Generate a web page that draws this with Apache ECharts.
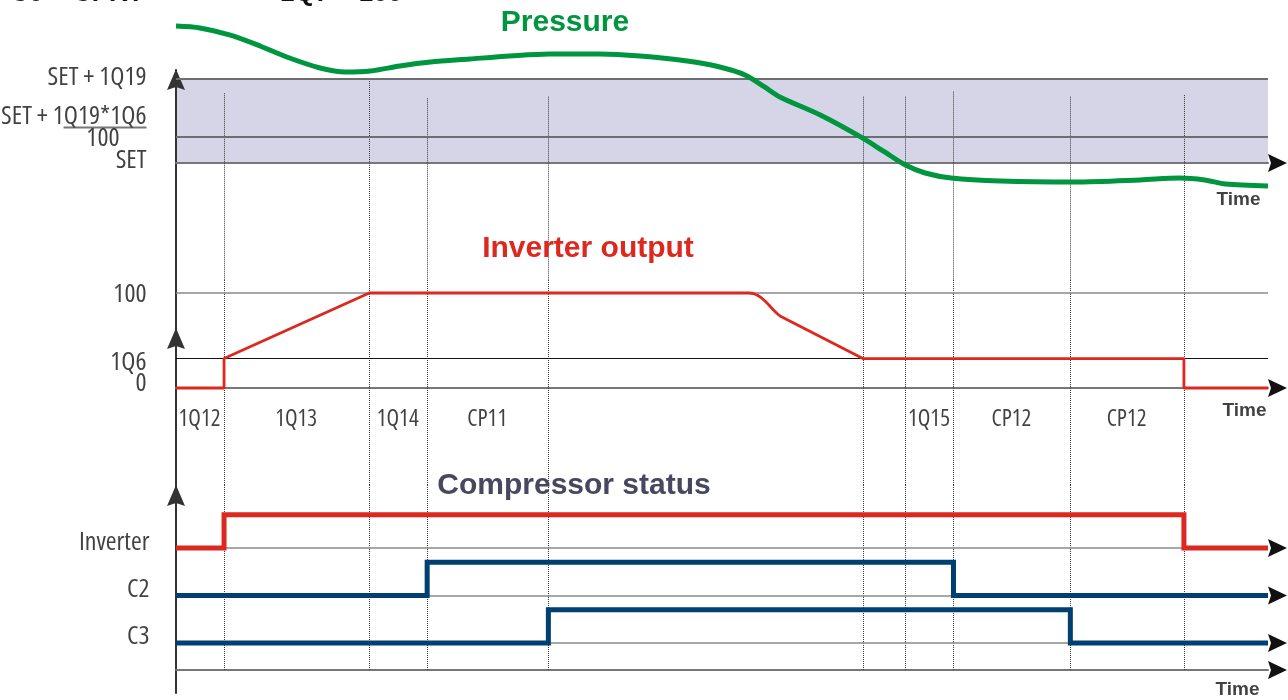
<!DOCTYPE html>
<html>
<head>
<meta charset="utf-8">
<title>Inverter control timing</title>
<script src="https://cdn.jsdelivr.net/npm/echarts@6/dist/echarts.min.js"></script>
<style>
  html, body { margin: 0; padding: 0; background: #ffffff; }
  #chart { width: 1288px; height: 700px; }
</style>
</head>
<body>
<div id="chart"></div>
<script>
// ---------------------------------------------------------------
// Data (time axis runs 0..100 in arbitrary time units)
// ---------------------------------------------------------------

// Moments where the regulation changes phase (dotted markers)
const eventTimes = [4.4, 17.7, 23.0, 34.1, 62.9, 66.8, 71.2, 81.9, 92.3];
// Upper end of each dotted marker, in pressure units
const markerTops = [83, 100, 77, 79, 79, 79, 85, 79, 81];

// Phase names written between consecutive markers
const phaseNames  = ['1Q12', '1Q13', '1Q14', 'CP11', '1Q15', 'CP12', 'CP12'];
const phaseStarts = [0,    4.4,  17.7, 23.0, 66.8, 71.2, 81.9];
const phaseEnds   = [4.4,  17.7, 23.0, 34.1, 71.2, 81.9, 92.3];

// Pressure thresholds (% of 1Q19 above SET)
const pressureLevels = [0, 31, 100];
const pressureLabels = ['SET', 'SET + 1Q19*1Q6/100', 'SET + 1Q19'];

// Pressure trace
const pressureTime  = [0, 2.2, 4.9, 7.7, 10.4, 13.2, 15.5, 17.8, 20.5, 23.3, 26.9, 30.6,
                       34.2, 38.8, 42.5, 46.8, 49.8, 52.1, 53.9, 55.3, 59.0, 62.7, 64.9,
                       66.8, 68.6, 71.0, 75.5, 82.3, 88.3, 91.9, 94.2, 96.1, 100];
const pressureValue = [163, 160.7, 152.4, 139.3, 125.0, 113.1, 108.3, 109.5, 115.5, 120.2,
                       123.8, 127.4, 129.8, 129.8, 127.4, 121.4, 114.3, 104.8, 90.5, 78.6,
                       57.1, 31.0, 13.1, -2.4, -11.9, -17.9, -21.4, -22.6, -20.2, -17.9,
                       -20.2, -25.0, -27.4];

// Inverter output levels and trace (%)
const outputLevels = [0, 31, 100];
const outputLabels = ['0', '1Q6', '100'];
const outputTime  = [0, 4.4, 4.4, 17.7, 52.47, 52.84, 53.21, 53.57, 53.94, 54.30, 54.67,
                     55.04, 55.31, 62.9, 92.3, 92.3, 100];
const outputValue = [0, 0,   31,  100,  100,   99.5,  97.9,  95.3,  91.6,  87.4,  82.6,
                     78.4,  75.8,  31,   31,   0,    0];

// Compressor status: switch-on and switch-off times
const statusNames = ['Inverter', 'C2', 'C3'];
const statusOn    = [4.4, 23.0, 34.1];
const statusOff   = [92.3, 71.2, 81.9];

// ---------------------------------------------------------------
// Fonts: pick a narrow regular-weight sans face and size it to fit
// ---------------------------------------------------------------
const probe = document.createElement('canvas').getContext('2d');
function textWidth(font, s) {
  probe.font = '10px monospace';
  probe.font = font;
  return probe.measureText(s).width;
}
const PROBE_TEXT = 'SET + 1Q19 Inverter mwil';
function hasFamily(fam) {
  return Math.abs(textWidth('40px ' + fam + ', monospace', PROBE_TEXT) -
                  textWidth('40px monospace', PROBE_TEXT)) > 0.5;
}
function hasRegular(style, fam) {
  return textWidth(style + ' bold 40px ' + fam, PROBE_TEXT) -
         textWidth(style + ' normal 40px ' + fam, PROBE_TEXT) > 0.5;
}
function pickNarrow() {
  const plain = ["'Liberation Sans Narrow'", "'Arial Narrow'", "'Nimbus Sans Narrow'"];
  for (const f of plain) {
    if (hasFamily(f) && hasRegular('normal', f)) return { style: 'normal', family: f };
  }
  for (const f of ["'Noto Sans'", "'Open Sans'"]) {
    const cond = textWidth('condensed 40px ' + f, PROBE_TEXT);
    const norm = textWidth('40px ' + f, PROBE_TEXT);
    if (cond < norm * 0.93 && hasRegular('condensed', f)) return { style: 'condensed', family: f };
  }
  return { style: 'normal', family: "'DejaVu Sans Condensed'" };
}
const narrow = pickNarrow();
function sizeFor(text, px) {
  const w = textWidth(narrow.style + ' normal 40px ' + narrow.family, text);
  return Math.round(40 * px / w * 10) / 10;
}
const LABEL_SIZE = sizeFor('SET + 1Q19', 99);
const PHASE_SIZE = sizeFor('1Q12', 42);

// ---------------------------------------------------------------
// Layout / style
// ---------------------------------------------------------------
const SANS = "'Liberation Sans',Arial,Helvetica,sans-serif";
const GREEN = '#009640';
const RED = '#dc281e';
const BLUE = '#003f72';
const INK = '#111111';
const AXIS_GRAY = '#777777';

const rowBase = [2.57, 1.57, 0.57];   // baseline of each status row (grid 3 units)
const rowStep = 0.7;                  // height of the "on" level

const X_MIN = 0, X_MAX = 100;

// y ranges chosen so each panel sits at its place on the page
const Y1 = { min: -139.3, max: 110.7 };
const Y2 = { min: -102.1, max: 113.7 };
const Y3 = { min: -0.484, max: 3.895 };

const ARROW_UP = 'path://M0,21L9,0L18,21L9,18Z';
const ARROW_RIGHT = 'path://M0,9L0.01,9ZM19,0L38,9L19,18L22,9Z';

const dotted = { color: '#3a3a3a', width: 1, type: [1, 1] };

const narrowText = { fontFamily: narrow.family, fontStyle: narrow.style, fontWeight: 'normal',
                     fontSize: LABEL_SIZE, color: INK };
const timeText = { fontFamily: SANS, fontWeight: 'bold', fontSize: 19, color: INK };

function pairs(xs, ys) { return xs.map((x, i) => [x, ys[i]]); }

function statusTrace(i) {
  const b = rowBase[i], h = rowBase[i] + rowStep;
  return [[X_MIN, b], [statusOn[i], b], [statusOn[i], h], [statusOff[i], h],
          [statusOff[i], b], [X_MAX, b]];
}

function hLine(y, color, width) {
  return [{ coord: [X_MIN, y], lineStyle: { color: color, width: width, type: 'solid' } },
          { coord: [X_MAX, y] }];
}

function vMarkers(tops, bottom) {
  return eventTimes.map((t, i) => [{ coord: [t, tops[i]] }, { coord: [t, bottom] }]);
}

// text pinned to a data point, shifted by a pixel offset
function note(x, y, text, dx, dy, align, style, rich) {
  return { value: [x, y],
           label: Object.assign({ show: true, formatter: text, position: [dx, dy],
                                  align: align, verticalAlign: 'middle', rich: rich || {} }, style) };
}

function notes(xi, yi, items) {
  return { type: 'scatter', xAxisIndex: xi, yAxisIndex: yi, symbol: 'circle', symbolSize: 1,
           itemStyle: { color: 'rgba(0,0,0,0)' }, silent: true, clip: false, z: 8,
           data: items };
}

function arrows(xi, yi, ys) {
  return { type: 'scatter', xAxisIndex: xi, yAxisIndex: yi, symbol: ARROW_RIGHT,
           symbolSize: [38, 18], itemStyle: { color: INK, opacity: 1 }, silent: true,
           clip: false, z: 7, data: ys.map(y => [X_MAX, y]) };
}

function xAxisFor(gridIndex) {
  return {
    type: 'value', gridIndex: gridIndex, min: X_MIN, max: X_MAX, z: 1,
    axisLine: { show: true, onZero: true, lineStyle: { color: AXIS_GRAY, width: 2 } },
    axisTick: { show: false }, splitLine: { show: false }, axisLabel: { show: false }
  };
}

function yAxisFor(gridIndex, range, arrowShift) {
  return {
    type: 'value', gridIndex: gridIndex, min: range.min, max: range.max, z: 1,
    axisLine: { show: true, onZero: false, symbol: ['none', ARROW_UP],
                symbolSize: [18, 21], symbolOffset: [0, arrowShift],
                lineStyle: { color: '#333333', width: 2 } },
    axisTick: { show: false }, splitLine: { show: false }, axisLabel: { show: false }
  };
}

const phaseMid = phaseNames.map((_, i) => (phaseStarts[i] + phaseEnds[i]) / 2);

// label offsets (px) from their level lines
const pressureLabelShift = [-2, -9, -1];
const outputLabelShift = [-4, 5, 2];
const statusLabelShift = [-5, -5.5, -5.5];

const fraction = pressureLabels[1].split('/');
const fractionRich = {
  n: Object.assign({}, narrowText, { height: 20 }),
  bar: { width: 83, height: 2, backgroundColor: '#555555' },
  d: Object.assign({}, narrowText, { height: 20, padding: [0, 27, 0, 0] })
};

const pressureNotes = pressureLevels.map((v, i) => i === 1
  ? note(X_MIN, v, '{n|' + fraction[0] + '}\n{bar|}\n{d|' + fraction[1] + '}', -29, pressureLabelShift[i], 'right', narrowText, fractionRich)
  : note(X_MIN, v, pressureLabels[i], -29, pressureLabelShift[i], 'right', narrowText))
  .concat([note(X_MAX, pressureLevels[0], 'Time', -7, 37, 'right', timeText)]);

const outputNotes = outputLevels.map((v, i) =>
    note(X_MIN, v, outputLabels[i], -29, outputLabelShift[i], 'right', narrowText))
  .concat(phaseNames.map((n, i) =>
    note(phaseMid[i], outputLevels[0], n, 0, 32, 'center', Object.assign({}, narrowText, { fontSize: PHASE_SIZE }))))
  .concat([note(X_MAX, outputLevels[0], 'Time', -1, 23, 'right', timeText)]);

const statusNotes = statusNames.map((n, i) =>
    note(X_MIN, rowBase[i], n, -26, statusLabelShift[i], 'right', narrowText))
  .concat([note(X_MAX, 0, 'Time', -8, 20, 'right', timeText)]);

const option = {
  animation: false,
  backgroundColor: '#ffffff',
  title: [
    { text: 'C0 = CPKT', left: 10, top: -19, padding: 0,
      textStyle: { fontFamily: SANS, fontWeight: 'bold', fontSize: 26, color: INK } },
    { text: '1Q7 = 100', left: 280, top: -19, padding: 0,
      textStyle: { fontFamily: SANS, fontWeight: 'bold', fontSize: 26, color: INK } },
    { text: 'Pressure', left: 565, top: 8, padding: 0, textAlign: 'center',
      textStyle: { fontFamily: SANS, fontWeight: 'bold', fontSize: 30, color: GREEN } },
    { text: 'Inverter output', left: 588, top: 234, padding: 0, textAlign: 'center',
      textStyle: { fontFamily: SANS, fontWeight: 'bold', fontSize: 30, color: RED } },
    { text: 'Compressor status', left: 574, top: 471, padding: 0, textAlign: 'center',
      textStyle: { fontFamily: SANS, fontWeight: 'bold', fontSize: 30, color: '#474760' } }
  ],
  grid: [
    { left: 176, right: 20, top: 70,  height: 210, outerBoundsMode: 'none', containLabel: false },
    { left: 176, right: 20, top: 280, height: 205, outerBoundsMode: 'none', containLabel: false },
    { left: 176, right: 20, top: 485, height: 208, outerBoundsMode: 'none', containLabel: false }
  ],
  xAxis: [xAxisFor(0), xAxisFor(1), xAxisFor(2)],
  yAxis: [yAxisFor(0, Y1, -9.5), yAxisFor(1, Y2, -58.5), yAxisFor(2, Y3, -10.5)],
  series: [
    // ---- Pressure panel ----
    { type: 'line', xAxisIndex: 0, yAxisIndex: 0, data: [], z: 0, silent: true,
      markArea: { silent: true, itemStyle: { color: '#d5d5e7' },
                  data: [[{ coord: [X_MIN, pressureLevels[0]] }, { coord: [X_MAX, pressureLevels[2]] }]] } },
    { type: 'line', xAxisIndex: 0, yAxisIndex: 0, data: [], z: 1, silent: true,
      markLine: { silent: true, symbol: ['none', 'none'], label: { show: false },
                  lineStyle: dotted,
                  data: vMarkers(markerTops, Y1.min)
                        .concat([hLine(pressureLevels[1], '#6e6e6e', 2), hLine(pressureLevels[2], '#6e6e6e', 2)]) } },
    { name: 'Pressure', type: 'line', xAxisIndex: 0, yAxisIndex: 0,
      data: pairs(pressureTime, pressureValue), smooth: 0.3, showSymbol: false,
      clip: false, z: 5, lineStyle: { color: GREEN, width: 5 } },
    arrows(0, 0, [pressureLevels[0]]),
    notes(0, 0, pressureNotes),

    // ---- Inverter output panel ----
    { type: 'line', xAxisIndex: 1, yAxisIndex: 1, data: [], z: 1, silent: true,
      markLine: { silent: true, symbol: ['none', 'none'], label: { show: false },
                  lineStyle: dotted,
                  data: vMarkers(eventTimes.map(() => Y2.max), Y2.min)
                        .concat([hLine(outputLevels[2], '#8a8a8a', 1.5), hLine(outputLevels[1], '#111111', 1.2)]) } },
    { name: 'Inverter output', type: 'line', xAxisIndex: 1, yAxisIndex: 1,
      data: pairs(outputTime, outputValue), showSymbol: false, clip: false, z: 5,
      lineStyle: { color: RED, width: 2.8 } },
    arrows(1, 1, [outputLevels[0]]),
    notes(1, 1, outputNotes),

    // ---- Compressor status panel ----
    { type: 'line', xAxisIndex: 2, yAxisIndex: 2, data: [], z: 1, silent: true,
      markLine: { silent: true, symbol: ['none', 'none'], label: { show: false },
                  lineStyle: dotted,
                  data: vMarkers(eventTimes.map(() => Y3.max), 0)
                        .concat(rowBase.map(b => hLine(b, '#8a8a8a', 1.5))) } },
    ...statusNames.map((n, i) => ({
      name: n, type: 'line', xAxisIndex: 2, yAxisIndex: 2, data: statusTrace(i),
      showSymbol: false, clip: false, z: 5,
      lineStyle: { color: i === 0 ? RED : BLUE, width: 5, join: 'miter', cap: 'butt' }
    })),
    arrows(2, 2, rowBase.concat([0])),
    notes(2, 2, statusNotes)
  ]
};

const chart = echarts.init(document.getElementById('chart'), null, { renderer: 'canvas' });
chart.setOption(option);
</script>
</body>
</html>
